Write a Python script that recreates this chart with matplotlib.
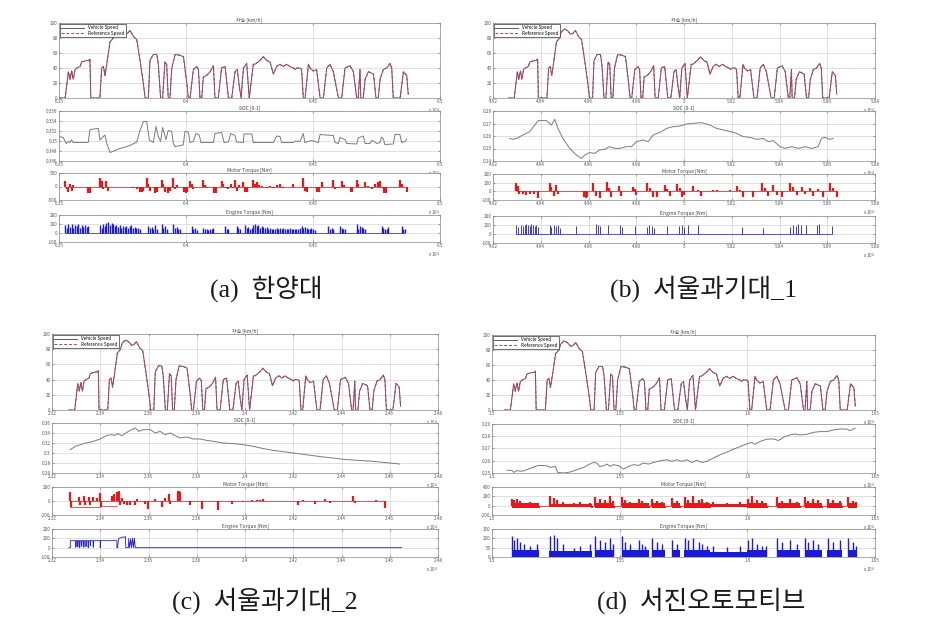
import matplotlib.pyplot as plt
from matplotlib.ticker import FormatStrFormatter

plt.rcParams['font.family'] = ['Noto Sans CJK KR', 'DejaVu Sans']

W, H = 947, 624

# ---- speed profile (same drive cycle in all four tests), t in s from start, km/h
speed_pts = [(0, 0), (24, 0), (37, 35), (43, 25), (50, 36), (56, 25), (63, 38), (70, 40), (83, 42),
             (89, 48), (109, 50), (116, 50), (122, 52), (125, 0), (161, 0), (168, 40), (175, 42),
             (181, 30), (188, 45), (201, 75), (214, 80), (221, 88), (234, 92), (247, 90), (260, 85),
             (269, 86), (280, 90), (293, 82), (306, 78), (319, 50), (332, 20), (339, 0), (352, 0),
             (358, 50), (371, 58), (385, 58), (391, 45), (400, 0), (408, 0), (417, 48), (424, 45),
             (430, 0), (437, 0), (444, 40), (457, 58), (476, 57), (490, 55), (503, 20), (509, 0),
             (516, 0), (529, 38), (542, 42), (549, 38), (555, 0), (562, 0), (568, 28), (581, 30),
             (595, 35), (608, 43), (614, 0), (627, 0), (640, 40), (654, 42), (667, 0), (680, 0),
             (693, 35), (702, 38), (710, 15), (717, 0), (726, 40), (739, 46), (749, 0), (765, 45),
             (772, 45), (791, 50), (804, 55), (818, 50), (831, 48), (844, 32), (857, 42), (870, 45),
             (883, 42), (896, 45), (909, 42), (923, 40), (929, 38), (936, 40), (949, 40), (955, 38),
             (962, 0), (969, 0), (982, 45), (988, 40), (1001, 36), (1014, 38), (1028, 0), (1041, 0),
             (1054, 40), (1067, 45), (1080, 35), (1100, 0), (1113, 0), (1126, 40), (1146, 43),
             (1159, 35), (1172, 0), (1178, 0), (1185, 38), (1188, 0), (1198, 0), (1205, 25),
             (1218, 35), (1238, 32), (1248, 0), (1257, 0), (1264, 25), (1277, 38), (1290, 40),
             (1303, 46), (1310, 40), (1316, 0), (1343, 0), (1356, 35), (1369, 30), (1375, 5)]

# ---- SOC [0-1]
soc_a = [(0, 0.3509), (17, 0.3507), (28, 0.3495), (37, 0.3499), (43, 0.3497), (50, 0.3502), (56, 0.3497),
         (115, 0.3497), (122, 0.3523), (155, 0.3525), (161, 0.3502), (175, 0.3509), (181, 0.3512),
         (188, 0.3495), (201, 0.3477), (240, 0.3485), (280, 0.3491), (306, 0.3498), (319, 0.3521),
         (332, 0.3539), (345, 0.3539), (356, 0.3502), (371, 0.3497), (382, 0.3529), (391, 0.3509),
         (400, 0.3499), (408, 0.3527), (421, 0.3503), (430, 0.3521), (444, 0.3519), (450, 0.3495),
         (457, 0.3489), (489, 0.3492), (496, 0.3519), (509, 0.3518), (516, 0.3497), (529, 0.3499),
         (539, 0.3515), (552, 0.3512), (559, 0.3497), (608, 0.3497), (614, 0.3515), (640, 0.3517),
         (650, 0.3497), (667, 0.3498), (676, 0.3515), (693, 0.3511), (699, 0.3498), (726, 0.3497),
         (728, 0.3514), (759, 0.3514), (765, 0.3497), (844, 0.3497), (857, 0.3510), (870, 0.3509),
         (877, 0.3497), (923, 0.3497), (929, 0.3500), (949, 0.3499), (962, 0.3515), (968, 0.3497),
         (995, 0.3501), (1021, 0.3497), (1028, 0.3513), (1080, 0.3511), (1087, 0.3497), (1100, 0.3495),
         (1106, 0.3507), (1126, 0.3503), (1133, 0.3495), (1172, 0.3494), (1178, 0.3506), (1198, 0.3510),
         (1205, 0.3495), (1224, 0.3495), (1231, 0.3501), (1244, 0.3498), (1251, 0.3495), (1264, 0.3497),
         (1270, 0.3508), (1277, 0.3504), (1283, 0.3493), (1316, 0.3494), (1323, 0.3513), (1342, 0.3513),
         (1349, 0.3497), (1362, 0.3499), (1369, 0.3504)]
soc_b = [(5, 0.2581), (19, 0.2573), (33, 0.2581), (61, 0.2608), (89, 0.2635), (110, 0.2688), (124, 0.2723),
         (159, 0.2723), (180, 0.2688), (194, 0.2733), (207, 0.2661), (228, 0.2581), (256, 0.2501),
         (284, 0.2448), (305, 0.2421), (319, 0.2448), (340, 0.2467), (361, 0.2461), (382, 0.2488),
         (403, 0.2493), (424, 0.2515), (445, 0.2501), (466, 0.2501), (494, 0.2515), (515, 0.2515),
         (536, 0.2555), (564, 0.2568), (585, 0.2555), (606, 0.2608), (641, 0.2635), (662, 0.2661),
         (690, 0.2675), (718, 0.2680), (746, 0.2696), (773, 0.2701), (808, 0.2707), (843, 0.2688),
         (871, 0.2661), (913, 0.2643), (955, 0.2621), (983, 0.2595), (1011, 0.2589), (1039, 0.2573),
         (1067, 0.2581), (1088, 0.2555), (1109, 0.2563), (1137, 0.2515), (1158, 0.2501), (1186, 0.2515),
         (1214, 0.2501), (1242, 0.2515), (1269, 0.2501), (1297, 0.2515), (1311, 0.2581), (1325, 0.2589),
         (1346, 0.2573), (1360, 0.2581)]
soc_c = [(6, 0.3067), (27, 0.3133), (61, 0.3187), (102, 0.3233), (130, 0.328), (158, 0.3353), (178, 0.3367),
         (192, 0.3353), (202, 0.3387), (220, 0.3347), (247, 0.3433), (275, 0.35), (289, 0.3433),
         (309, 0.3467), (337, 0.3467), (358, 0.34), (378, 0.3433), (399, 0.3367), (420, 0.34),
         (433, 0.3367), (461, 0.33), (489, 0.332), (516, 0.328), (544, 0.328), (571, 0.3253),
         (599, 0.3233), (640, 0.32), (682, 0.3187), (723, 0.3167), (765, 0.3133), (806, 0.3087),
         (847, 0.3053), (889, 0.3027), (930, 0.30), (971, 0.2973), (1013, 0.2947), (1054, 0.292),
         (1096, 0.29), (1137, 0.2873), (1178, 0.286), (1220, 0.2847), (1261, 0.2833), (1302, 0.2813),
         (1344, 0.2793), (1371, 0.278)]
soc_d = [(11, 0.2522), (30, 0.2522), (37, 0.2505), (50, 0.2519), (69, 0.2514), (89, 0.2527), (115, 0.2549),
         (135, 0.2562), (167, 0.2559), (180, 0.2546), (200, 0.2554), (209, 0.2505), (232, 0.2500),
         (258, 0.2508), (285, 0.2527), (311, 0.2546), (330, 0.2568), (350, 0.2586), (363, 0.2581),
         (373, 0.2554), (389, 0.2559), (402, 0.2573), (415, 0.2554), (428, 0.2568), (448, 0.2559),
         (467, 0.2532), (487, 0.2554), (506, 0.2568), (526, 0.2562), (545, 0.2581), (565, 0.2573),
         (585, 0.2586), (611, 0.2600), (637, 0.2608), (656, 0.2595), (676, 0.2608), (695, 0.2595),
         (715, 0.2608), (735, 0.2586), (754, 0.2603), (774, 0.2586), (793, 0.2595), (819, 0.2622),
         (845, 0.2649), (872, 0.2670), (898, 0.2695), (924, 0.2716), (950, 0.2738), (969, 0.2749),
         (982, 0.2735), (1002, 0.2757), (1028, 0.2776), (1054, 0.2778), (1074, 0.2765), (1093, 0.2792),
         (1119, 0.2811), (1139, 0.2819), (1158, 0.2811), (1185, 0.2816), (1211, 0.2832), (1237, 0.2838),
         (1263, 0.2838), (1289, 0.2851), (1315, 0.2859), (1341, 0.2859), (1354, 0.2846), (1374, 0.2865)]

# ---- motor torque [Nm] (peaks)
motor_a = [(24, 200), (30, -100), (37, -200), (43, 100), (50, -150), (56, 50), (113, -250), (118, -250),
           (123, -250), (161, 300), (168, 200), (175, -100), (185, 200), (194, -150), (293, -50), (306, -80),
           (319, -200), (325, -200), (332, -150), (345, 300), (352, 100), (358, -150), (378, -250),
           (384, -200), (404, 250), (411, 100), (417, -200), (430, -250), (437, -150), (450, 300),
           (457, -100), (466, 50), (492, -200), (499, -250), (505, -200), (516, 200), (522, 80),
           (529, -100), (568, 250), (575, 50), (581, -50), (610, -250), (617, -250), (640, 200), (647, 80),
           (656, -50), (667, -100), (676, 100), (684, -50), (693, 250), (699, -150), (710, 50), (726, 150),
           (732, -200), (739, -200), (765, 250), (772, 100), (778, 150), (787, 50), (798, 30), (818, -50),
           (831, 30), (844, -50), (860, 40), (870, 100), (877, -50), (923, 80), (962, 300), (968, -150),
           (975, -200), (1017, -200), (1024, -200), (1034, 150), (1080, 250), (1087, -100), (1097, -50),
           (1113, 200), (1122, 50), (1148, -200), (1155, -200), (1172, 250), (1178, 100), (1192, -50),
           (1205, 150), (1218, 30), (1231, -100), (1244, 100), (1257, 150), (1264, 200), (1270, -50),
           (1280, -250), (1286, -250), (1342, 250), (1349, 100), (1369, -200)]
motor_b = [(30, 100), (40, 60), (45, -30), (60, -30), (75, -40), (90, -30), (105, -30), (124, -80),
           (173, 100), (180, 50), (189, -50), (198, 70), (207, -30), (315, -60), (323, -80), (330, -60),
           (354, 100), (368, -50), (382, -80), (413, 110), (421, 40), (431, -70), (463, 60), (473, -50),
           (522, 50), (529, 30), (536, -40), (578, 100), (592, 40), (606, -60), (623, -70), (655, 70),
           (662, 30), (676, -50), (704, 80), (718, 40), (725, -60), (734, -40), (773, 60), (794, 20),
           (808, -50), (857, 20), (874, 10), (927, 10), (955, 60), (969, 20), (983, -70), (1025, -60),
           (1060, 100), (1074, 40), (1088, -50), (1109, 70), (1123, -40), (1144, -70), (1179, 100),
           (1193, 50), (1207, -40), (1228, 50), (1242, -30), (1263, 40), (1277, -50), (1298, 30),
           (1318, -60), (1346, 100), (1360, 40), (1374, -60)]
motor_c = [(6, 130), (8, -90), (40, 60), (47, -60), (61, 70), (68, -60), (82, 60), (89, -50), (102, 60),
           (116, 50), (130, 110), (132, -80), (178, 70), (185, 100), (199, 130), (206, 150), (213, -50),
           (220, 50), (227, -40), (240, -60), (254, -50), (275, -60), (282, 30), (316, -40), (326, -110),
           (358, 30), (385, -80), (399, 40), (413, 100), (420, -40), (454, 150), (458, 150), (461, 130),
           (502, -60), (551, -120), (620, -130), (675, -40), (723, -20), (758, 10), (778, 10), (792, 20),
           (806, 30), (951, -50), (971, 20), (1020, -40), (1061, 30), (1082, -30), (1178, 70), (1185, -30),
           (1275, 20), (1309, -100)]
motor_c_base = [(6, -90), (130, -90), (130, -70), (200, -70)]
motor_d = [(30, 150), (37, 120), (50, 150), (63, 100), (76, 60), (102, 70), (128, 60), (135, -50),
           (180, 200), (193, 160), (206, 120), (232, 80), (272, 60), (298, 70), (337, 60), (343, -40),
           (356, 180), (376, 150), (395, 120), (415, 200), (425, 100), (428, -50), (461, 180), (474, 120),
           (493, 80), (526, 150), (539, 100), (552, 60), (565, -50), (578, 140), (598, 100), (617, 80),
           (630, -40), (656, 160), (676, 90), (689, -50), (708, 180), (721, 120), (741, 200), (761, 120),
           (774, 140), (793, 70), (806, -40), (819, 80), (872, 60), (924, 80), (950, -30), (956, 150),
           (969, 200), (989, 120), (1008, 100), (1025, 60), (1028, -50), (1067, 180), (1087, 100),
           (1119, 150), (1145, 80), (1158, -50), (1178, 180), (1191, 100), (1211, 150), (1230, 120),
           (1243, -50), (1269, 150), (1289, 120), (1315, 100), (1322, -50), (1348, 180), (1367, 100),
           (1378, 70)]

# ---- engine torque [Nm] (peaks)
engine_a = [(24, 90), (30, 60), (37, 100), (43, 70), (50, 95), (56, 60), (63, 90), (70, 75), (76, 95),
            (83, 60), (89, 85), (96, 70), (102, 90), (109, 65), (115, 80), (161, 90), (168, 60), (174, 100),
            (181, 80), (187, 110), (194, 120), (200, 90), (207, 110), (213, 100), (220, 80), (226, 90),
            (233, 70), (239, 85), (246, 60), (252, 80), (259, 70), (265, 75), (272, 60), (278, 80),
            (285, 90), (291, 60), (298, 70), (304, 60), (311, 55), (318, 50), (352, 80), (358, 60),
            (365, 70), (371, 50), (378, 90), (384, 40), (404, 100), (411, 60), (417, 80), (424, 50),
            (450, 100), (457, 60), (463, 70), (470, 40), (476, 50), (522, 80), (529, 50), (536, 60),
            (542, 30), (568, 60), (575, 40), (581, 50), (588, 30), (595, 50), (601, 40), (608, 60),
            (653, 80), (660, 50), (667, 40), (699, 80), (706, 60), (712, 40), (732, 90), (739, 60),
            (745, 70), (752, 50), (758, 60), (765, 90), (772, 100), (778, 80), (785, 90), (791, 60),
            (798, 80), (804, 70), (811, 60), (817, 70), (824, 50), (831, 60), (837, 40), (844, 50),
            (850, 40), (857, 60), (863, 50), (870, 60), (877, 45), (883, 55), (890, 40), (896, 50),
            (903, 40), (909, 55), (916, 45), (922, 50), (929, 40), (935, 50), (942, 40), (948, 60),
            (955, 80), (962, 60), (968, 70), (975, 60), (981, 50), (988, 40), (994, 60), (1001, 40),
            (1007, 30), (1060, 80), (1067, 50), (1073, 60), (1080, 40), (1106, 80), (1113, 60),
            (1119, 50), (1126, 40), (1172, 100), (1178, 50), (1185, 80), (1191, 70), (1198, 60),
            (1204, 50), (1270, 80), (1277, 60), (1283, 50), (1290, 40), (1296, 70), (1349, 80),
            (1355, 50), (1362, 40)]
engine_b = [(33, 100), (40, 80), (54, 100), (61, 90), (68, 100), (75, 110), (82, 100), (89, 90), (96, 110),
            (103, 100), (110, 90), (117, 100), (124, 80), (173, 100), (180, 80), (189, 100), (198, 90),
            (207, 100), (214, 70), (284, 90), (368, 110), (375, 100), (382, 90), (417, 100), (466, 100),
            (477, 80), (529, 90), (578, 80), (589, 100), (599, 90), (609, 70), (662, 90), (715, 90),
            (725, 100), (734, 80), (752, 100), (794, 100), (976, 80), (1067, 70), (1179, 80), (1193, 100),
            (1204, 90), (1214, 110), (1224, 100), (1246, 100), (1291, 100), (1302, 110), (1353, 90)]
engine_c = [(0, 0), (6, 0), (6, 75), (28, 75), (29, 5), (31, 75), (36, 75), (37, 10), (39, 75), (44, 75),
            (45, 0), (47, 75), (52, 75), (53, 15), (55, 75), (61, 75), (62, 5), (64, 75), (70, 75), (71, 10),
            (73, 75), (79, 75), (80, 0), (82, 75), (88, 75), (89, 20), (91, 75), (100, 75), (101, 5),
            (103, 75), (130, 75), (130, 0), (131, 75), (199, 75), (199, 0), (202, 0), (206, 100), (215, 105),
            (220, 115), (227, 110), (234, 120), (236, 0), (247, 0), (248, 100), (252, 0), (256, 95), (260, 0),
            (264, 105), (268, 0), (272, 100), (275, 0), (1380, 0)]
engine_d = [(30, 110), (37, 90), (50, 100), (63, 80), (76, 70), (102, 60), (128, 70), (180, 110), (193, 120),
            (206, 100), (232, 70), (272, 50), (298, 60), (337, 70), (356, 110), (376, 90), (395, 80),
            (415, 100), (425, 70), (461, 110), (474, 80), (493, 70), (526, 90), (539, 70), (552, 60),
            (578, 100), (598, 80), (617, 70), (656, 90), (676, 70), (708, 100), (721, 90), (741, 100),
            (761, 80), (774, 70), (793, 60), (819, 60), (872, 55), (924, 60), (956, 90), (969, 100),
            (989, 70), (1008, 60), (1025, 60), (1067, 100), (1087, 80), (1119, 90), (1145, 70), (1178, 100),
            (1191, 80), (1211, 90), (1230, 70), (1269, 100), (1289, 80), (1315, 90), (1348, 100),
            (1367, 80), (1378, 60)]

# burst blocks of test (d): start, end [s], upper / lower motor torque, engine torque [Nm]
burst_d_start = [30, 174, 356, 461, 578, 656, 702, 806, 950, 1067, 1178, 1263, 1348]
burst_d_end = [135, 343, 428, 565, 630, 689, 806, 950, 1028, 1158, 1243, 1322, 1380]
burst_d_motor = [60, 45, 60, 60, 60, 60, 60, 35, 60, 60, 60, 60, 60]
burst_d_motor_neg = [-40, -30, -40, -40, -40, -40, -40, -20, -40, -40, -40, -40, -40]
burst_d_engine = [35, 30, 35, 35, 35, 35, 35, 25, 35, 35, 35, 35, 35]

captions = ['(a)  한양대', '(b)  서울과기대_1', '(c)  서울과기대_2', '(d)  서진오토모티브']
titles = ['차속 [km/h]', 'SOC [0-1]', 'Motor Torque [Nm]', 'Engine Torque [Nm]']

panels = [
    dict(start=63500, xlim=(6.35, 6.5), xt=[6.35, 6.4, 6.45, 6.5], lr=(59, 440),
         rows=[(23, 98), (111, 161), (173, 200), (215, 242)], soc=soc_a, motor=motor_a, engine=engine_a,
         socy=(0.346, 0.356), socyt=[0.346, 0.348, 0.35, 0.352, 0.354, 0.356],
         moty=(-500, 500), motyt=[-500, 0, 500], engy=(-100, 200), engyt=[-100, 0, 100, 200],
         cap=(266, 289)),
    dict(start=49265, xlim=(4.92, 5.08), xt=[4.92, 4.94, 4.96, 4.98, 5.0, 5.02, 5.04, 5.06, 5.08], lr=(493, 875),
         rows=[(23, 98), (111, 161), (174, 200), (216, 243)], soc=soc_b, motor=motor_b, engine=engine_b,
         socy=(0.24, 0.28), socyt=[0.24, 0.25, 0.26, 0.27, 0.28],
         moty=(-100, 200), motyt=[-100, 0, 100, 200], engy=(-100, 200), engyt=[-100, 0, 100, 200],
         cap=(703, 289)),
    dict(start=23270, xlim=(2.32, 2.48), xt=[2.32, 2.34, 2.36, 2.38, 2.4, 2.42, 2.44, 2.46, 2.48], lr=(52, 438),
         rows=[(334, 410), (423, 473), (487, 515), (529, 557)], soc=soc_c, motor=motor_c, engine=None,
         socy=(0.26, 0.36), socyt=[0.26, 0.28, 0.3, 0.32, 0.34, 0.36],
         moty=(-200, 200), motyt=[-200, 0, 200], engy=(-100, 200), engyt=[-100, 0, 100, 200],
         cap=(265, 601)),
    dict(start=15048, xlim=(1.5, 1.65), xt=[1.5, 1.55, 1.6, 1.65], lr=(492, 875),
         rows=[(335, 410), (424, 473), (487, 515), (529, 557)], soc=soc_d, motor=motor_d, engine=engine_d,
         socy=(0.25, 0.29), socyt=[0.25, 0.26, 0.27, 0.28, 0.29],
         moty=(-200, 400), motyt=[-200, 0, 200, 400], engy=(0, 150), engyt=[0, 50, 100, 150],
         cap=(701, 601)),
]

fig = plt.figure(figsize=(W / 100, H / 100), dpi=100)


def rect(l, t, r, b):
    return [l / W, 1 - b / H, (r - l) / W, (b - t) / H]


def style(ax, p, ylim, yt, title):
    ax.set_xlim(p['xlim'])
    ax.set_xticks(p['xt'])
    ax.set_ylim(ylim)
    ax.set_yticks(yt)
    ax.xaxis.set_major_formatter(FormatStrFormatter('%g'))
    ax.yaxis.set_major_formatter(FormatStrFormatter('%g'))
    ax.tick_params(labelsize=3.3, length=1.5, width=0.4, direction='in', colors='#555',
                   pad=1, top=True, right=True)
    ax.grid(True, color='#d4d4d4', lw=0.5)
    ax.set_axisbelow(True)
    for s in ax.spines.values():
        s.set_color('#8a8a8a')
        s.set_linewidth(0.5)
    ax.set_title(title, fontsize=3.6, pad=1.5, color='#444')
    ax.annotate('x 10$^4$', xy=(1, 0), xycoords='axes fraction', xytext=(0, -6),
                textcoords='offset points', ha='right', va='top', fontsize=3.2, color='#555')


def unpack(pts, start):
    return [(start + p[0]) / 1e4 for p in pts], [p[1] for p in pts]


for i, p in enumerate(panels):
    l, r = p['lr']
    st = p['start']
    bx0 = [(st + t) / 1e4 for t in burst_d_start]
    bw = [(b - a) / 1e4 for a, b in zip(burst_d_start, burst_d_end)]

    # speed
    ax = fig.add_axes(rect(l, p['rows'][0][0], r, p['rows'][0][1]))
    x, v = unpack(speed_pts, st)
    ax.plot(x, v, color='#5a5a5a', lw=0.7, label='Vehicle Speed')
    ax.plot(x, v, color='#d0306a', lw=0.7, ls=(0, (3, 2)), label='Reference Speed')
    style(ax, p, (0, 100), [0, 20, 40, 60, 80, 100], titles[0])
    leg = ax.legend(loc='upper left', fontsize=3.3, handlelength=5, borderpad=0.3,
                    labelspacing=0.1, fancybox=False, framealpha=1, borderaxespad=0.2)
    leg.get_frame().set_edgecolor('#333')
    leg.get_frame().set_linewidth(0.5)

    # SOC
    ax = fig.add_axes(rect(l, p['rows'][1][0], r, p['rows'][1][1]))
    x, v = unpack(p['soc'], st)
    ax.plot(x, v, color='#7a7a7a', lw=0.7)
    style(ax, p, p['socy'], p['socyt'], titles[1])

    # motor torque
    ax = fig.add_axes(rect(l, p['rows'][2][0], r, p['rows'][2][1]))
    x, v = unpack(p['motor'], st)
    if i == 3:
        ax.bar(bx0, burst_d_motor, width=bw, align='edge', color='#e81818', lw=0)
        ax.bar(bx0, burst_d_motor_neg, width=bw, align='edge', color='#e81818', lw=0)
    ax.vlines(x, 0, v, color='#e81818', lw=1.6)
    ax.hlines(0, min(x), max(x), color='#e81818', lw=0.5)
    if i == 2:
        cx, cv = unpack(motor_c_base, st)
        ax.plot(cx, cv, color='#e81818', lw=0.5)
    style(ax, p, p['moty'], p['motyt'], titles[2])

    # engine torque
    ax = fig.add_axes(rect(l, p['rows'][3][0], r, p['rows'][3][1]))
    if p['engine'] is None:
        x, v = unpack(engine_c, st)
        ax.plot(x, v, color='#2020d0', lw=0.6)
    else:
        x, v = unpack(p['engine'], st)
        if i == 3:
            ax.bar(bx0, burst_d_engine, width=bw, align='edge', color='#1a1ad8', lw=0)
        ax.vlines(x, 0, v, color='#1a1ad8', lw=1.0 if i != 1 else 0.6)
        ax.hlines(0, min(x), max(x), color='#1a1ad8', lw=0.5)
    style(ax, p, p['engy'], p['engyt'], titles[3])

    fig.text(p['cap'][0] / W, 1 - p['cap'][1] / H, captions[i], fontsize=18.5,
             family=['Liberation Serif', 'Noto Sans CJK KR'], weight='light',
             ha='center', va='center', color='#1a1a1a')

fig.savefig('out.png', dpi=100)
